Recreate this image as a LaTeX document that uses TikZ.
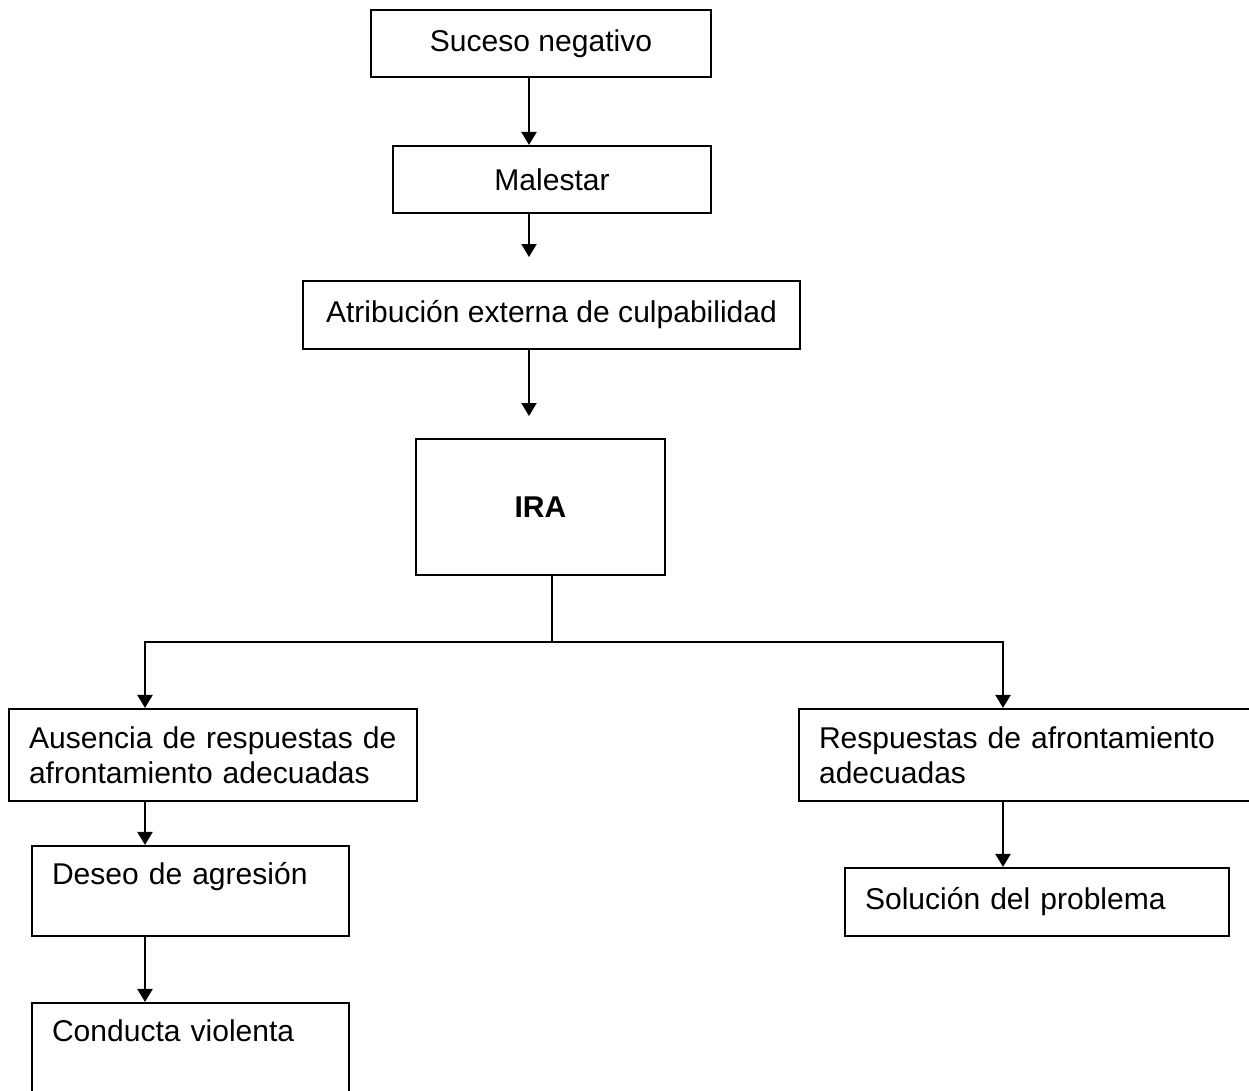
\documentclass[tikz,border=0pt]{standalone}
\usepackage{fontspec}
\setmainfont{Liberation Sans}
\usetikzlibrary{arrows.meta}

\begin{document}
\begin{tikzpicture}[x=0.02cm,y=-0.02cm,line width=1.2pt,
      every node/.append style={font=\fontsize{17.1}{19.9}\selectfont},
      box/.style={draw=black,rectangle,inner sep=0pt,align=center},
      leftbox/.style={draw=black,rectangle,inner xsep=0.4cm,inner ysep=0pt,align=left},
      flow/.style={-{Triangle[length=0.26cm,width=0.3cm]}}]
    \useasboundingbox (0,0) rectangle (1249,1091);
    \clip (0,0) rectangle (1249,1091);
    \node (suceso) [box,minimum width=6.8cm,minimum height=1.34cm] at (541,43.5) {Suceso negativo};
    \node (malestar) [box,minimum width=6.36cm,minimum height=1.34cm] at (552,179.5) {Malestar};
    \node (atribucion) [box,minimum width=9.94cm,minimum height=1.36cm] at (551.5,315) {Atribución externa de culpabilidad};
    \node (ira) [box,minimum width=4.98cm,minimum height=2.72cm] at (540.5,507) {\textbf{IRA}};
    \node (ausencia) [leftbox,text width=7.36cm,minimum height=1.84cm] at (213,755) {Ausencia de respuestas de\\afrontamiento adecuadas};
    \node (respuestas) [leftbox,text width=8.4cm,minimum height=1.84cm] at (1029,755) {Respuestas de afrontamiento\\adecuadas};
    \node (deseo) [leftbox,text width=5.54cm,minimum height=1.8cm] at (190.5,891) {Deseo de agresión\\\mbox{}};
    \node (solucion) [leftbox,text width=6.88cm,minimum height=1.36cm] at (1037,902) {Solución del problema};
    \node (conducta) [leftbox,text width=5.54cm,minimum height=1.8cm] at (190.5,1048) {Conducta violenta\\\mbox{}};
    \coordinate (tip1) at (529,257);
    \coordinate (tip2) at (529,416);
    \coordinate (split) at (552,642);
    \coordinate (lcol) at (145,642);
    \coordinate (rcol) at (1003,642);
    \draw[flow] (suceso.south -| tip1) -- (malestar.north -| tip1);
    \draw[flow] (malestar.south -| tip1) -- (tip1);
    \draw[flow] (atribucion.south -| tip2) -- (tip2);
    \draw (ira.south -| split) -- (split);
    \draw[flow] (split) -- (lcol) -- (ausencia.north -| lcol);
    \draw[flow] (split) -- (rcol) -- (respuestas.north -| rcol);
    \draw[flow] (ausencia.south -| lcol) -- (deseo.north -| lcol);
    \draw[flow] (deseo.south -| lcol) -- (conducta.north -| lcol);
    \draw[flow] (respuestas.south -| rcol) -- (solucion.north -| rcol);
\end{tikzpicture}
\end{document}
